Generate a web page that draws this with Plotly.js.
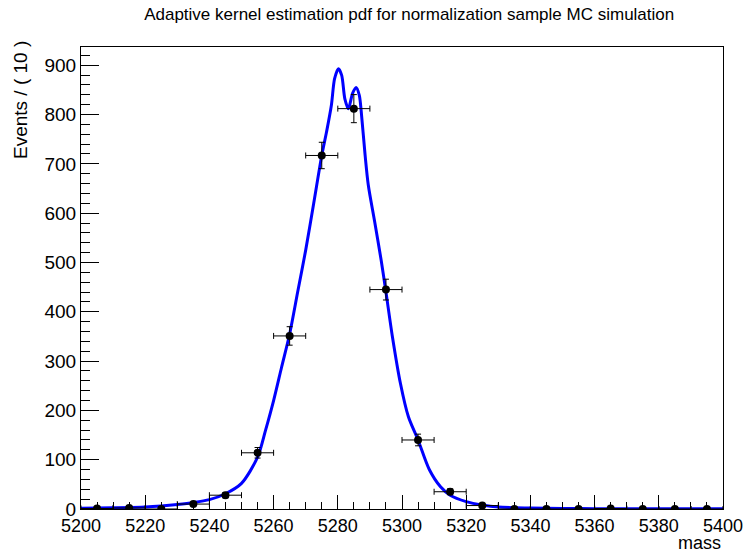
<!DOCTYPE html>
<html>
<head>
<meta charset="utf-8">
<script src="https://cdn.plot.ly/plotly-3.0.1.min.js"></script>
<style>html,body{margin:0;padding:0;background:#fff;}#plot{width:744px;height:557px;}</style>
</head>
<body>
<div id="plot"></div>
<script>
// Binned MC data (bin width 10)
const binCenters = [5205,5215,5225,5235,5245,5255,5265,5275,5285,5295,5305,5315,5325,5335,5345,5355,5365,5375,5385,5395];
const binCounts  = [1,2,0,10,28,114,351,717,812,445,140,35,7,0,0,0,1,0,0,0];
const binErrors  = binCounts.map(v => Math.sqrt(v));
const binHalfWidth = binCenters.map(() => 5);

// Adaptive kernel estimation pdf curve
const curveMass = [5200,5210,5220,5225,5230,5235,5240,5245,5250,5255,5257.5,5260,5262.5,5265,5267.5,5270,5272.5,5275,5276.5,5278,5279,5280.2,5281.2,5282.2,5283.3,5284.6,5285.7,5286.7,5287.4,5288.5,5289.5,5291.5,5293.5,5295,5297,5299.5,5302,5305,5308.5,5312,5315,5320,5325,5330,5340,5350,5360,5380,5400];
const curveVals = [1.5,2.5,4,6,9,13,19,31,52,105,160,220,288,355,440,525,620,717,765,819,873,893,880,832,812,843,855,839,799,718,657,582,505,440,350,255,187,140,80,45,28,15,8,4,2,1,0.7,0.4,0.3];

const xTickVals = [5200,5220,5240,5260,5280,5300,5320,5340,5360,5380,5400];
const yTickVals = [0,100,200,300,400,500,600,700,800,900];

const font = 'Liberation Sans, Arial, sans-serif';

const traces = [
  {
    x: curveMass, y: curveVals, type: 'scatter', mode: 'lines',
    line: {color: '#0000ff', width: 3, shape: 'spline', smoothing: 0.8},
    hoverinfo: 'skip', showlegend: false
  },
  {
    x: binCenters, y: binCounts, type: 'scatter', mode: 'markers',
    marker: {color: '#000', size: 8},
    error_y: {type: 'data', array: binErrors, visible: true, color: '#000', thickness: 1, width: 3},
    error_x: {type: 'data', array: binHalfWidth, visible: true, color: '#000', thickness: 1, width: 3},
    showlegend: false
  }
];

const layout = {
  width: 744, height: 557,
  paper_bgcolor: '#fff', plot_bgcolor: '#fff',
  margin: {l: 81, r: 21, t: 47, b: 48},
  showlegend: false,
  font: {family: font, color: '#000', size: 16},
  title: {text: 'Adaptive kernel estimation pdf for normalization sample MC simulation',
          font: {family: font, size: 17, color: '#000'},
          xref: 'container', x: 0.55, xanchor: 'center', y: 0.975, yanchor: 'middle'},
  xaxis: {
    range: [5200, 5400], showgrid: false, zeroline: false,
    showline: true, mirror: true, linecolor: '#000', linewidth: 1,
    ticks: 'inside', ticklen: 14, tickwidth: 1, tickcolor: '#000',
    tickvals: xTickVals, ticktext: xTickVals.map(String),
    tickfont: {family: font, size: 18},
    minor: {dtick: 5, tick0: 5200, ticks: 'inside', ticklen: 7, tickcolor: '#000', tickwidth: 1, showgrid: false}
  },
  yaxis: {
    range: [0, 937], showgrid: false, zeroline: false,
    showline: true, mirror: true, linecolor: '#000', linewidth: 1,
    ticks: 'inside', ticklen: 18, tickwidth: 1, tickcolor: '#000',
    tickvals: yTickVals, ticktext: yTickVals.map(String),
    tickfont: {family: font, size: 19},
    minor: {dtick: 20, tick0: 0, ticks: 'inside', ticklen: 9, tickcolor: '#000', tickwidth: 1, showgrid: false}
  },
  annotations: [
    {text: 'mass', xref: 'paper', yref: 'paper', x: 1, y: 0, xanchor: 'right', yanchor: 'top',
     yshift: -22, showarrow: false, font: {family: font, size: 18}},
    {text: 'Events / ( 10 )', xref: 'paper', yref: 'paper', x: 0, y: 1, xanchor: 'center', yanchor: 'top',
     xshift: -61, yshift: 8, textangle: -90, showarrow: false, font: {family: font, size: 19}}
  ]
};

Plotly.newPlot('plot', traces, layout, {displayModeBar: false, staticPlot: true});
</script>
</body>
</html>
